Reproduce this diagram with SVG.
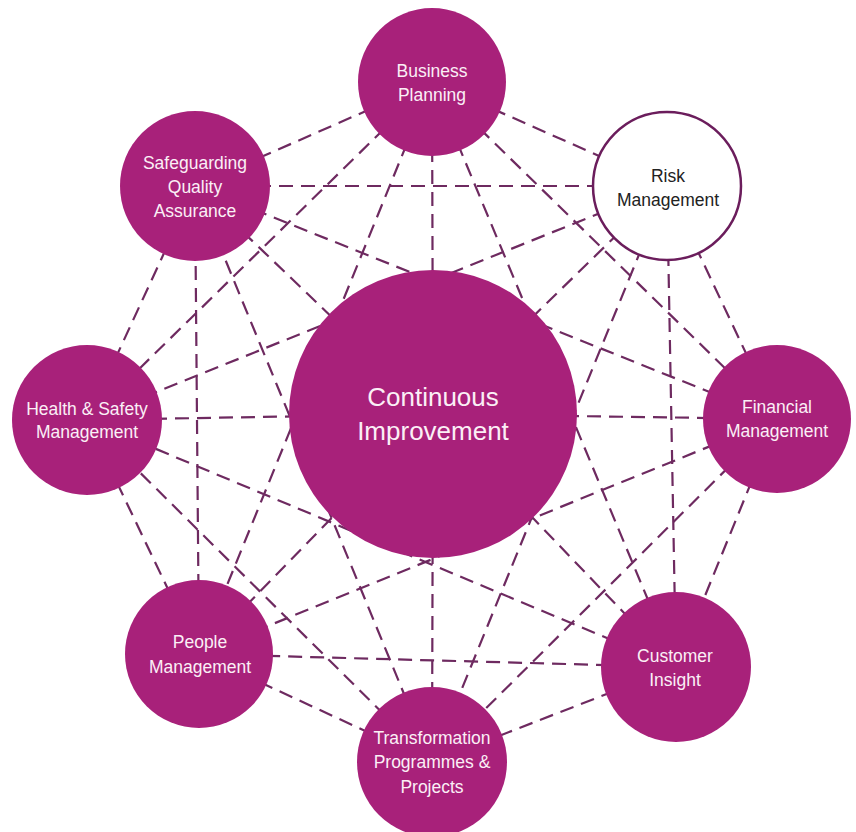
<svg xmlns="http://www.w3.org/2000/svg" width="856" height="832" viewBox="0 0 856 832">
<style>
.c{stroke:#6E2A60;stroke-width:2.2;stroke-dasharray:14 8;fill:none}
.n{fill:#A8217A}
.w{fill:#FFFFFF;stroke:#6B1D5C;stroke-width:2.5}
.t{font-family:"Liberation Sans",Arial,sans-serif;font-size:17.5px;fill:#FBEFF6;text-anchor:middle}
.tb{fill:#222222}
.tc{font-size:26px}
</style>
<rect width="856" height="832" fill="#FFFFFF"/>
<g id="connectors">
<line class="c" x1="432" y1="82" x2="667" y2="186"/>
<line class="c" x1="432" y1="82" x2="777" y2="419"/>
<line class="c" x1="432" y1="82" x2="676" y2="667"/>
<line class="c" x1="432" y1="82" x2="199" y2="654"/>
<line class="c" x1="432" y1="82" x2="87" y2="420"/>
<line class="c" x1="432" y1="82" x2="195" y2="186"/>
<line class="c" x1="432" y1="82" x2="433" y2="414"/>
<line class="c" x1="667" y1="186" x2="777" y2="419"/>
<line class="c" x1="667" y1="186" x2="676" y2="667"/>
<line class="c" x1="667" y1="186" x2="432" y2="762"/>
<line class="c" x1="667" y1="186" x2="87" y2="420"/>
<line class="c" x1="667" y1="186" x2="195" y2="186"/>
<line class="c" x1="667" y1="186" x2="433" y2="414"/>
<line class="c" x1="777" y1="419" x2="676" y2="667"/>
<line class="c" x1="777" y1="419" x2="432" y2="762"/>
<line class="c" x1="777" y1="419" x2="199" y2="654"/>
<line class="c" x1="777" y1="419" x2="195" y2="186"/>
<line class="c" x1="777" y1="419" x2="433" y2="414"/>
<line class="c" x1="676" y1="667" x2="432" y2="762"/>
<line class="c" x1="676" y1="667" x2="199" y2="654"/>
<line class="c" x1="676" y1="667" x2="87" y2="420"/>
<line class="c" x1="676" y1="667" x2="433" y2="414"/>
<line class="c" x1="432" y1="762" x2="199" y2="654"/>
<line class="c" x1="432" y1="762" x2="87" y2="420"/>
<line class="c" x1="432" y1="762" x2="195" y2="186"/>
<line class="c" x1="432" y1="762" x2="433" y2="414"/>
<line class="c" x1="199" y1="654" x2="87" y2="420"/>
<line class="c" x1="199" y1="654" x2="195" y2="186"/>
<line class="c" x1="199" y1="654" x2="433" y2="414"/>
<line class="c" x1="87" y1="420" x2="195" y2="186"/>
<line class="c" x1="87" y1="420" x2="433" y2="414"/>
<line class="c" x1="195" y1="186" x2="433" y2="414"/>
</g>
<g id="continuous-improvement">
<circle class="n" cx="433" cy="414" r="144"/>
<text class="t tc" x="433" y="406">Continuous</text>
<text class="t tc" x="433" y="440">Improvement</text>
</g>
<g id="business-planning">
<circle class="n" cx="432" cy="82" r="74"/>
<text class="t" x="432" y="77">Business</text>
<text class="t" x="432" y="101">Planning</text>
</g>
<g id="risk-management">
<circle class="w" cx="667" cy="186" r="74"/>
<text class="t tb" x="668" y="182">Risk</text>
<text class="t tb" x="668" y="206">Management</text>
</g>
<g id="financial-management">
<circle class="n" cx="777" cy="419" r="74"/>
<text class="t" x="777" y="413">Financial</text>
<text class="t" x="777" y="437">Management</text>
</g>
<g id="customer-insight">
<circle class="n" cx="676" cy="667" r="75"/>
<text class="t" x="675" y="662">Customer</text>
<text class="t" x="675" y="686">Insight</text>
</g>
<g id="transformation-programmes-projects">
<circle class="n" cx="432" cy="762" r="75"/>
<text class="t" x="432" y="744">Transformation</text>
<text class="t" x="432" y="768">Programmes &amp;</text>
<text class="t" x="432" y="793">Projects</text>
</g>
<g id="people-management">
<circle class="n" cx="199" cy="654" r="74"/>
<text class="t" x="200" y="648">People</text>
<text class="t" x="200" y="673">Management</text>
</g>
<g id="health-safety-management">
<circle class="n" cx="87" cy="420" r="75"/>
<text class="t" x="87" y="415">Health &amp; Safety</text>
<text class="t" x="87" y="438">Management</text>
</g>
<g id="safeguarding-quality-assurance">
<circle class="n" cx="195" cy="186" r="75"/>
<text class="t" x="195" y="169">Safeguarding</text>
<text class="t" x="195" y="193">Quality</text>
<text class="t" x="195" y="217">Assurance</text>
</g>
</svg>
